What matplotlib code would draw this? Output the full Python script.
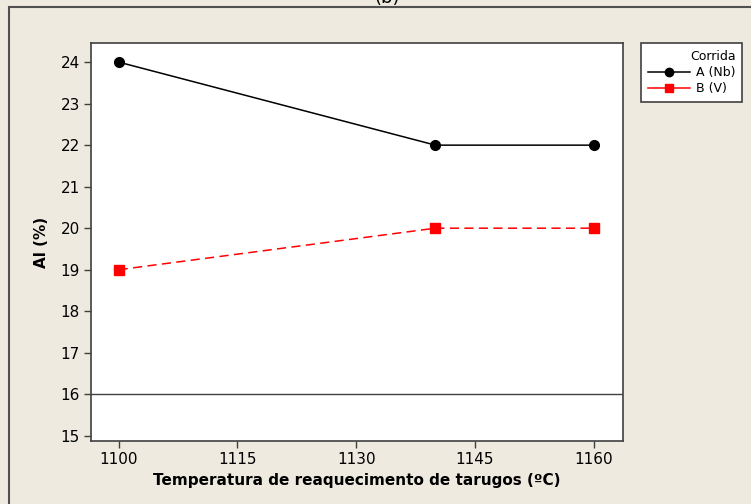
import matplotlib.pyplot as plt
from matplotlib.patches import Rectangle
from matplotlib.lines import Line2D

# datos
temperaturas = [1100, 1140, 1160]
al_a = [24, 22, 22]
al_b = [19, 20, 20]
x_ticks = [1100, 1115, 1130, 1145, 1160]
y_ticks = [15, 16, 17, 18, 19, 20, 21, 22, 23, 24]
linea_ref = 16

fondo = '#EEEAE0'
plt.rcParams['font.family'] = 'DejaVu Sans'

fig = plt.figure(figsize=(7.51, 5.04), dpi=100, facecolor=fondo)
W, H = 751, 504

# marco exterior (cortado a la derecha y abajo)
fig.patches.append(Rectangle((9 / W, -1), 2, 2 - 7 / H, transform=fig.transFigure,
                             fill=False, edgecolor='#505050', linewidth=1.5, clip_on=False))
fig.text(387 / W, 1 - 3 / H, '(b)', ha='center', va='baseline', fontsize=13)

ax = fig.add_axes([91 / W, 1 - 441 / H, (623 - 91) / W, (441 - 43) / H])
ax.set_facecolor('white')

ax.axhline(linea_ref, color='#404040', linewidth=1)
ax.plot(temperaturas, al_a, color='black', linewidth=1.1, marker='o', markersize=7,
        label='A (Nb)')
ax.plot(temperaturas, al_b, color='red', linewidth=1.1, linestyle=(0, (6, 3.5)),
        marker='s', markersize=6.5, label='B (V)')

ax.set_xlim(1096.5, 1163.7)
ax.set_ylim(14.875, 24.46)
ax.set_xticks(x_ticks)
ax.set_yticks(y_ticks)
ax.tick_params(direction='out', length=5, width=1, color='#404040', labelsize=11, pad=3)
for s in ax.spines.values():
    s.set_color('#404040')
    s.set_linewidth(1.2)

ax.set_xlabel('Temperatura de reaquecimento de tarugos (ºC)', fontsize=11,
              fontweight='bold', labelpad=4)
ax.set_ylabel('Al (%)', fontsize=11, fontweight='bold', labelpad=8)

# leyenda
handles = [Line2D([], [], color='black', marker='o', markersize=6, linewidth=1.1),
           Line2D([], [], color='red', marker='s', markersize=6, linewidth=1.1)]
leg = fig.legend(handles, ['A (Nb)', 'B (V)'], title='Corrida', fontsize=9,
                 title_fontsize=9, loc='upper left',
                 bbox_to_anchor=(641 / W, 1 - 43 / H), bbox_transform=fig.transFigure,
                 frameon=True, fancybox=False, edgecolor='#404040',
                 handlelength=3.4, handletextpad=0.45, borderpad=0.55,
                 labelspacing=0.25, borderaxespad=0)
leg.get_frame().set_linewidth(1.2)
leg.get_frame().set_facecolor('white')
leg.get_frame().set_alpha(1)
leg._legend_box.align = 'right'

fig.savefig('out.png', dpi=100, facecolor=fondo)
